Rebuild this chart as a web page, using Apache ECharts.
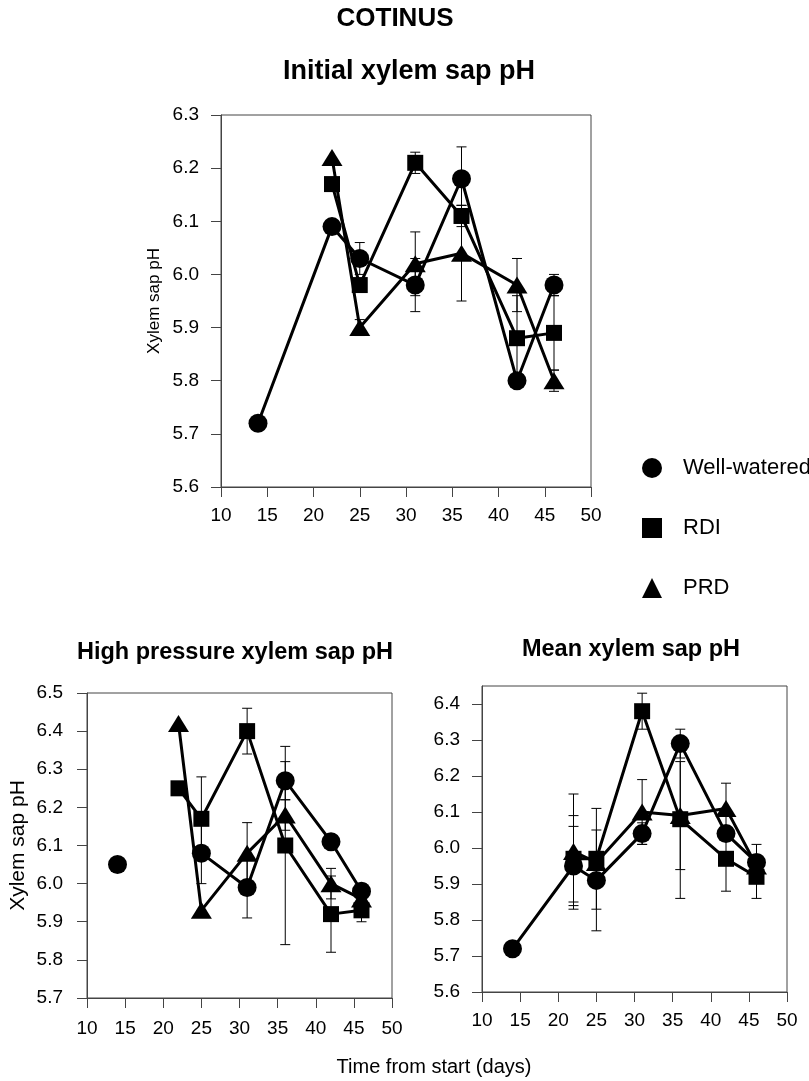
<!DOCTYPE html>
<html>
<head>
<meta charset="utf-8">
<script src="https://cdn.jsdelivr.net/npm/echarts@6/dist/echarts.min.js"></script>
<style>
  body { margin: 0; background: #fff; }
  #chart { width: 809px; height: 1081px; }
</style>
</head>
<body>
<div id="chart"></div>
<script>
// sampling days
const days = [14, 22, 25, 31, 36, 42, 46];
const xTicks = [10, 15, 20, 25, 30, 35, 40, 45, 50];

// initial xylem sap pH
const initWW = [5.72, 6.09, 6.03, 5.98, 6.18, 5.80, 5.98];
const initRDI = [null, 6.17, 5.98, 6.21, 6.11, 5.88, 5.89];
const initPRD = [null, 6.22, 5.90, 6.02, 6.04, 5.98, 5.80];
const initWWErr = [0, 0, 0.03, 0.05, 0.06, 0, 0.02];
const initRDIErr = [0, 0, 0, 0.02, 0.02, 0.08, 0.07];
const initPRDErr = [0, 0, 0.015, 0.06, 0.09, 0.05, 0.02];
const initYTicks = [5.6, 5.7, 5.8, 5.9, 6.0, 6.1, 6.2, 6.3];

// high pressure xylem sap pH
const highWW = [6.05, null, 6.08, 5.99, 6.27, 6.11, 5.98];
const highRDI = [null, 6.25, 6.17, 6.40, 6.10, 5.92, 5.93];
const highPRD = [null, 6.42, 5.93, 6.08, 6.18, 6.00, 5.96];
const highWWErr = [0, 0, 0.08, 0.08, 0.05, 0, 0.02];
const highRDIErr = [0, 0, 0.11, 0.06, 0.26, 0.10, 0.03];
const highPRDErr = [0, 0, 0, 0.08, 0.04, 0.04, 0];
const highYTicks = [5.7, 5.8, 5.9, 6.0, 6.1, 6.2, 6.3, 6.4, 6.5];

// mean xylem sap pH
const meanWW = [5.72, 5.95, 5.91, 6.04, 6.29, 6.04, 5.96];
const meanRDI = [null, 5.97, 5.97, 6.38, 6.08, 5.97, 5.92];
const meanPRD = [null, 5.99, 5.96, 6.10, 6.09, 6.11, 5.95];
const meanWWErr = [0, 0.11, 0.14, 0.03, 0.04, 0, 0.05];
const meanRDIErr = [0, 0.12, 0.14, 0.05, 0.22, 0.09, 0.06];
const meanPRDErr = [0, 0.16, 0, 0.09, 0.15, 0.07, 0];
const meanYTicks = [5.6, 5.7, 5.8, 5.9, 6.0, 6.1, 6.2, 6.3, 6.4];

const FONT = 'Liberation Sans, Arial, sans-serif';
const INK = '#000';
const AXIS = '#444';

const marks = {
  'Well-watered': { symbol: 'circle', symbolSize: 19 },
  'RDI': { symbol: 'rect', symbolSize: 16 },
  'PRD': { symbol: 'triangle', symbolSize: [21, 17] }
};

function lineSeries(name, vals, idx) {
  return {
    name: name,
    type: 'line',
    xAxisIndex: idx,
    yAxisIndex: idx,
    symbol: marks[name].symbol,
    symbolSize: marks[name].symbolSize,
    showAllSymbol: true,
    lineStyle: { color: INK, width: 3 },
    itemStyle: { color: INK },
    z: 3,
    data: days.map((d, i) => [d, vals[i]])
  };
}

// vertical bar with caps, mean +/- error
function renderErr(params, api) {
  const x = api.value(0);
  const lo = api.coord([x, api.value(1)]);
  const hi = api.coord([x, api.value(2)]);
  const w = 5;
  const st = { stroke: INK, lineWidth: 1 };
  return {
    type: 'group',
    children: [
      { type: 'line', shape: { x1: lo[0], y1: lo[1], x2: hi[0], y2: hi[1] }, style: st },
      { type: 'line', shape: { x1: lo[0] - w, y1: lo[1], x2: lo[0] + w, y2: lo[1] }, style: st },
      { type: 'line', shape: { x1: hi[0] - w, y1: hi[1], x2: hi[0] + w, y2: hi[1] }, style: st }
    ]
  };
}

function errSeries(vals, errs, idx) {
  const data = [];
  days.forEach((d, i) => {
    if (vals[i] != null && errs[i] > 0) {
      data.push([d, vals[i] - errs[i], vals[i] + errs[i]]);
    }
  });
  return {
    type: 'custom',
    xAxisIndex: idx,
    yAxisIndex: idx,
    renderItem: renderErr,
    encode: { x: 0, y: [1, 2] },
    silent: true,
    z: 2,
    data: data
  };
}

function xAxis(idx, labelMargin) {
  return {
    type: 'value',
    gridIndex: idx,
    min: 10, max: 50, interval: 5,
    axisLine: { lineStyle: { color: AXIS, width: 1 } },
    axisTick: { length: 10, lineStyle: { color: AXIS }, customValues: xTicks },
    axisLabel: { color: INK, fontSize: 19, fontFamily: FONT, margin: labelMargin, customValues: xTicks },
    splitLine: { show: false }
  };
}

function yAxis(idx, min, max, ticks, name, nameSize, labelMargin) {
  return {
    type: 'value',
    gridIndex: idx,
    min: min, max: max, interval: 0.1,
    name: name,
    nameLocation: 'middle',
    nameGap: 58,
    nameTextStyle: { color: INK, fontSize: nameSize, fontFamily: FONT },
    axisLine: { lineStyle: { color: AXIS, width: 1 } },
    axisTick: { length: 10, lineStyle: { color: AXIS }, customValues: ticks },
    axisLabel: {
      color: INK, fontSize: 19, fontFamily: FONT, margin: labelMargin,
      customValues: ticks,
      formatter: v => v.toFixed(1)
    },
    splitLine: { show: false }
  };
}

const gridBox = { show: true, borderColor: AXIS, borderWidth: 1, backgroundColor: 'transparent' };

const chart = echarts.init(document.getElementById('chart'), null, { renderer: 'canvas' });

const option = {
  animation: false,
  backgroundColor: '#fff',
  textStyle: { fontFamily: FONT },
  graphic: [
    { type: 'text', x: 395, y: 19, style: { text: 'COTINUS', font: 'bold 26px ' + FONT, fill: INK, align: 'center', verticalAlign: 'middle' } },
    { type: 'text', x: 409, y: 72, style: { text: 'Initial xylem sap pH', font: 'bold 27px ' + FONT, fill: INK, align: 'center', verticalAlign: 'middle' } },
    { type: 'text', x: 235, y: 653, style: { text: 'High pressure xylem sap pH', font: 'bold 23.5px ' + FONT, fill: INK, align: 'center', verticalAlign: 'middle' } },
    { type: 'text', x: 631, y: 650, style: { text: 'Mean xylem sap pH', font: 'bold 23.5px ' + FONT, fill: INK, align: 'center', verticalAlign: 'middle' } },
    { type: 'text', x: 434, y: 1067, style: { text: 'Time from start (days)', font: '20px ' + FONT, fill: INK, align: 'center', verticalAlign: 'middle' } }
  ],
  legend: {
    orient: 'vertical',
    left: 637,
    top: 452,
    itemWidth: 20,
    itemHeight: 20,
    itemGap: 38,
    selectedMode: false,
    textStyle: { color: INK, fontSize: 22, fontFamily: FONT, padding: [0, 0, 0, 16] },
    data: [
      { name: 'Well-watered', icon: 'circle' },
      { name: 'RDI', icon: 'rect' },
      { name: 'PRD', icon: 'triangle' }
    ]
  },
  grid: [
    Object.assign({ left: 221, top: 115, width: 370, height: 372 }, gridBox),
    Object.assign({ left: 87, top: 693, width: 305, height: 305 }, gridBox),
    Object.assign({ left: 482, top: 686, width: 305, height: 306 }, gridBox)
  ],
  xAxis: [xAxis(0, 19), xAxis(1, 21), xAxis(2, 19)],
  yAxis: [
    yAxis(0, 5.6, 6.3, initYTicks, 'Xylem sap pH', 17, 22),
    yAxis(1, 5.7, 6.5, highYTicks, 'Xylem sap pH', 21, 24),
    yAxis(2, 5.6, 6.45, meanYTicks, '', 17, 22)
  ],
  series: [
    lineSeries('Well-watered', initWW, 0),
    lineSeries('RDI', initRDI, 0),
    lineSeries('PRD', initPRD, 0),
    errSeries(initWW, initWWErr, 0),
    errSeries(initRDI, initRDIErr, 0),
    errSeries(initPRD, initPRDErr, 0),

    lineSeries('Well-watered', highWW, 1),
    lineSeries('RDI', highRDI, 1),
    lineSeries('PRD', highPRD, 1),
    errSeries(highWW, highWWErr, 1),
    errSeries(highRDI, highRDIErr, 1),
    errSeries(highPRD, highPRDErr, 1),

    lineSeries('Well-watered', meanWW, 2),
    lineSeries('RDI', meanRDI, 2),
    lineSeries('PRD', meanPRD, 2),
    errSeries(meanWW, meanWWErr, 2),
    errSeries(meanRDI, meanRDIErr, 2),
    errSeries(meanPRD, meanPRDErr, 2)
  ]
};

chart.setOption(option);
</script>
</body>
</html>
